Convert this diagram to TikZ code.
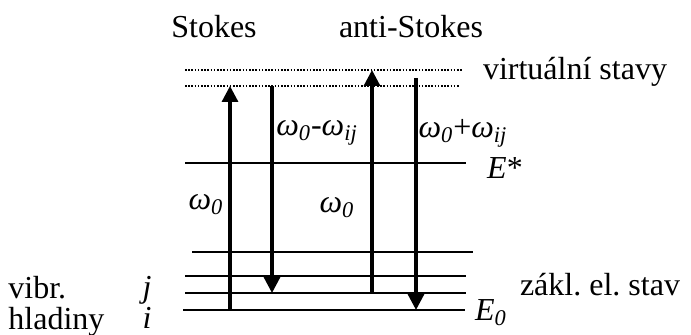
\documentclass[tikz,border=0pt]{standalone}
\usepackage{fontspec}
\setmainfont{Liberation Serif}
\usetikzlibrary{arrows.meta}

\newcommand{\om}{\textit{ω}}
\frenchspacing

\begin{document}
\begin{tikzpicture}[x=0.5pt,y=-0.5pt,font=\fontsize{16}{18}\selectfont,
    level/.style={line width=1.4pt},
    virt/.style={line width=1.3pt,dash pattern=on 0.8pt off 0.8pt},
    trans/.style={line width=1.6pt,-{Triangle[width=8pt,length=8pt]}}]
        \useasboundingbox (0,0) rectangle (691,335);
        % levels
        \draw[virt] (185,70) -- (463,70) coordinate (v2);
        \draw[virt] (185,86) -- (460,86) coordinate (v1);
        \draw[level] (185,163) -- (466,163) coordinate (es);
        \draw[level] (192,252) -- (473,252);
        \draw[level] (185,276) -- (466,276);
        \draw[level] (185,293) -- (466,293) coordinate (lj);
        \draw[level] (183,310) -- (465,310) coordinate (li);
        % transitions
        \coordinate (a1) at (230,310);  \coordinate (b1) at (230,86);
        \coordinate (a2) at (272,86);   \coordinate (b2) at (272,293);
        \coordinate (a3) at (372,293);  \coordinate (b3) at (372,70);
        \coordinate (a4) at (416,78);   \coordinate (b4) at (416,310);
        \draw[trans] (a1) -- (b1);
        \draw[trans] (a2) -- (b2);
        \draw[trans] (a3) -- (b3);
        \draw[trans] (a4) -- (b4);
        % labels
        \node (stokes) at (214,27) {Stokes};
        \node (anti) at (411,27) {anti-Stokes};
        \node (virtual) at (575,72) {virtuální stavy};
        \node (estar) at (505,168) {\textit{E}*};
        \node (ezero) at (491,313) {\textit{E}\textsubscript{\textit{0}}};
        \node (ground) at (600,285) {zákl. el. stav};
        \node (w1) at (206,205) {\om\textsubscript{\textit{0}}};
        \node (w2) at (337,208) {\om\textsubscript{\textit{0}}};
        \node (wminus) at (317,133) {\om\textsubscript{\textit{0}}-\om\textsubscript{\textit{ij}}};
        \node (wplus) at (463,133) {\om\textsubscript{\textit{0}}+\om\textsubscript{\textit{ij}}};
        \node (j) at (147,290) {\textit{j}};
        \node (i) at (147,318) {\textit{i}};
        \node[anchor=west,inner sep=0pt] (vibr) at (8,288) {vibr.};
        \node[anchor=west,inner sep=0pt] (hlad) at (8,322) {hladiny};
    \end{tikzpicture}
\end{document}
